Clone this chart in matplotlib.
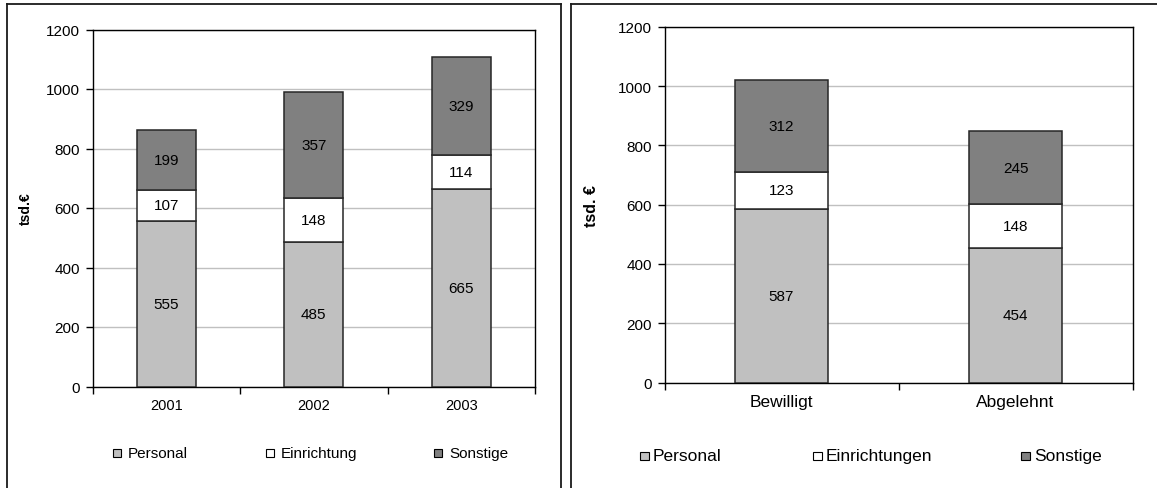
import matplotlib
matplotlib.use("Agg")
import matplotlib.pyplot as plt
from matplotlib.lines import Line2D
from matplotlib.patches import Rectangle
import numpy as np

plt.rcParams['font.family'] = ['Liberation Sans', 'DejaVu Sans']

# Left chart: expenses by year
years = ["2001", "2002", "2003"]
personal_years = [555, 485, 665]
einrichtung_years = [107, 148, 114]
sonstige_years = [199, 357, 329]
legend_left = ["Personal", "Einrichtung", "Sonstige"]

# Right chart: approved vs. rejected
status = ["Bewilligt", "Abgelehnt"]
personal_status = [587, 454]
einrichtung_status = [123, 148]
sonstige_status = [312, 245]
legend_right = ["Personal", "Einrichtungen", "Sonstige"]

colors = ["#c0c0c0", "#ffffff", "#808080"]
edge = "#262626"

W, H = 1157, 489
fig = plt.figure(figsize=(W / 100, H / 100), dpi=100)


def px_axes(x0, y0, x1, y1):
    return fig.add_axes([x0 / W, 1 - y1 / H, (x1 - x0) / W, (y1 - y0) / H])


def stacked(ax, cats, series, ylabel, ylab_size, cat_size):
    x = np.arange(len(cats))
    bottom = np.zeros(len(cats))
    for vals, c in zip(series, colors):
        vals = np.asarray(vals, dtype=float)
        ax.bar(x, vals, 0.4, bottom=bottom, color=c, edgecolor=edge,
               linewidth=1.1, zorder=3)
        for xi, b, v in zip(x, bottom, vals):
            ax.text(xi, b + v / 2, f"{int(v)}", ha="center", va="center",
                    fontsize=11, color="black", zorder=4)
        bottom += vals
    ax.set_xlim(-0.5, len(cats) - 0.5)
    ax.set_ylim(0, 1200)
    ax.set_yticks(np.arange(0, 1201, 200))
    ax.yaxis.grid(True, color="#c0c0c0", linewidth=1.0, zorder=0)
    ax.set_axisbelow(True)
    ax.set_xticks(np.arange(-0.5, len(cats), 1.0))
    ax.set_xticklabels([])
    ax.set_xticks(x, minor=True)
    ax.set_xticklabels(cats, minor=True)
    ax.tick_params(axis="x", which="major", length=5, width=1, direction="out")
    ax.tick_params(axis="x", which="minor", length=0, pad=8,
                   labelsize=cat_size)
    ax.tick_params(axis="y", length=5, width=1, direction="out", pad=4,
                   labelsize=11)
    for s in ax.spines.values():
        s.set_color("black")
        s.set_linewidth(1.0)
    ax.set_ylabel(ylabel, fontsize=ylab_size, fontweight="bold")


ax1 = px_axes(92.5, 30.5, 535, 387.5)
stacked(ax1, years, [personal_years, einrichtung_years, sonstige_years],
        "tsd.€", 10, 10.5)
ax1.yaxis.set_label_coords(-0.135, 0.5)

ax2 = px_axes(664.5, 27.8, 1132.5, 383.6)
stacked(ax2, status, [personal_status, einrichtung_status, sonstige_status],
        "tsd. €", 11.5, 12.5)
ax2.yaxis.set_label_coords(-0.139, 0.5)


def legend_row(names, xs, y, size, gap, box):
    for name, x, c in zip(names, xs, colors):
        fig.add_artist(Rectangle((x / W, 1 - (y + box / 2) / H), box / W,
                                 box / H, transform=fig.transFigure,
                                 facecolor=c, edgecolor="black",
                                 linewidth=0.8))
        fig.text((x + gap) / W, 1 - y / H, name, fontsize=size,
                 ha="left", va="center")


legend_row(legend_left, [113, 266, 434], 454, 11, 15, 8)
legend_row(legend_right, [640, 813, 1021], 457, 12.5, 13, 8.5)

# Panel frames (open at the bottom edge of the canvas)
frame = dict(color="#1a1a1a", linewidth=1.3, transform=fig.transFigure)
fig.add_artist(Line2D([7 / W, 7 / W], [0, 1 - 5 / H], **frame))
fig.add_artist(Line2D([7 / W, 561 / W], [1 - 5 / H, 1 - 5 / H], **frame))
fig.add_artist(Line2D([561 / W, 561 / W], [0, 1 - 5 / H], **frame))
fig.add_artist(Line2D([571 / W, 571 / W], [0, 1 - 5 / H], **frame))
fig.add_artist(Line2D([571 / W, 1], [1 - 5 / H, 1 - 5 / H], **frame))

fig.savefig("out.png", dpi=100)
